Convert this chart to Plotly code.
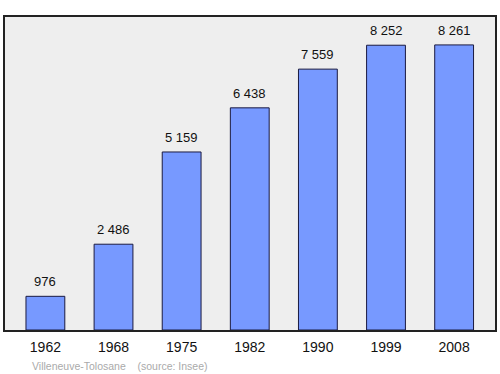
import plotly.graph_objects as go

years = ["1962", "1968", "1975", "1982", "1990", "1999", "2008"]
population = [976, 2486, 5159, 6438, 7559, 8252, 8261]
labels = [f"{v:,}".replace(",", " ") for v in population]

W, H = 500, 374
L, R, T, B = 5, 3, 17, 44
plot_w = W - L - R
plot_h = H - T - B

fig = go.Figure()
fig.add_trace(go.Bar(
    x=years, y=population, width=0.57,
    marker=dict(color="#7799FF", line=dict(color="#1a1a40", width=1)),
    hoverinfo="skip",
))
for i, (y, t) in enumerate(zip(population, labels)):
    fig.add_annotation(x=i, y=y, text=t, showarrow=False, yanchor="bottom",
                       yshift=5, font=dict(size=13, color="#111"))

fig.add_annotation(xref="paper", yref="paper", x=(30 - L) / plot_w,
                   y=(330 - 366) / plot_h, xanchor="left", yanchor="middle",
                   text="Villeneuve-Tolosane &nbsp;&nbsp;&nbsp;(source: Insee)",
                   showarrow=False, font=dict(size=10.5, color="#aaaaaa"))

fig.update_layout(
    width=W, height=H,
    margin=dict(l=L, r=R, t=T, b=B),
    paper_bgcolor="white", plot_bgcolor="#eeeeee",
    font=dict(family="Liberation Sans, Arial, sans-serif"),
    showlegend=False,
    xaxis=dict(type="category", range=[-0.593, 6.6], showgrid=False,
               showline=True, linecolor="#222", linewidth=1.5, mirror=True,
               ticks="", tickfont=dict(size=14, color="#111"),
               ticklabelstandoff=3, fixedrange=True),
    yaxis=dict(range=[0, 9070], showgrid=False, showticklabels=False,
               showline=True, linecolor="#222", linewidth=1.5, mirror=True,
               zeroline=False, ticks="", fixedrange=True),
)
fig.write_html("out.html", config={"displayModeBar": False})
